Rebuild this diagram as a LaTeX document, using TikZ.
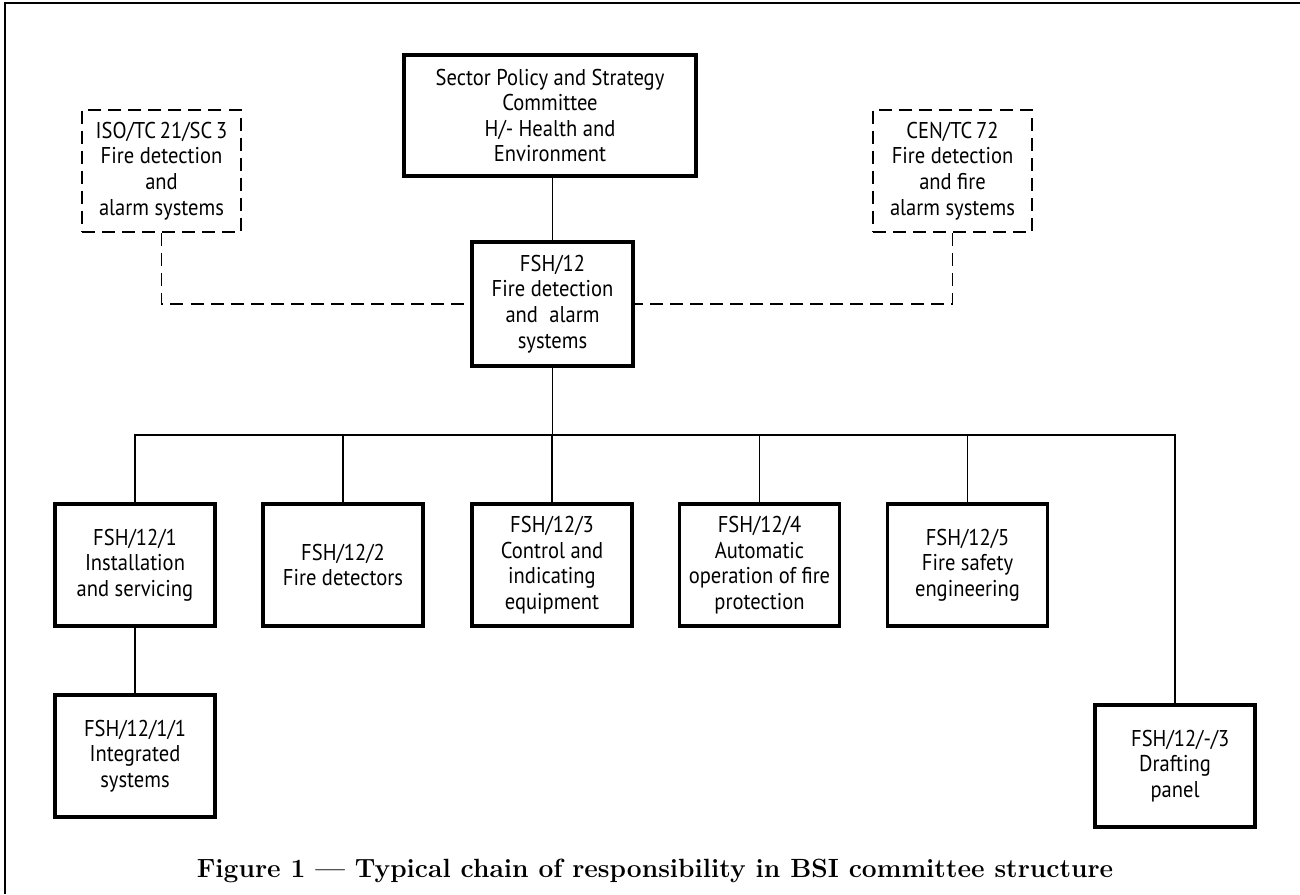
\documentclass[tikz,border=0pt]{standalone}
\usepackage{fontspec}
\usepackage{tikz}
\usetikzlibrary{positioning}
\newfontfamily\bsifont[FakeStretch=0.9]{PT Sans}

\begin{document}
\begin{tikzpicture}[x=0.02cm, y=-0.02cm,
    cttee/.style={draw, line width=1.9pt, align=center, inner sep=0pt,
        minimum width=3.2cm, minimum height=2.44cm,
        font=\bsifont\fontsize{13}{14.6}\selectfont},
    extcttee/.style={cttee, line width=1pt, dash pattern=on 7.4pt off 4pt,
        minimum width=3.18cm},
    conn/.style={line width=0.9pt},
    liaison/.style={line width=1pt, dash pattern=on 7.4pt off 4pt}]
    \useasboundingbox (0,0) rectangle (1300,894);

    % Frame
    \draw[line width=1.2pt] (5,894) -- (5,3) -- (1300,3);

    % Top level
    \node[cttee, minimum width=5.84cm, minimum height=2.42cm] (spc) at (550,115.5)
        {Sector Policy and Strategy\\Committee\\H/- Health and\\Environment};
    \node[cttee, minimum width=3.22cm, minimum height=2.48cm] (fsh12) at (552.5,304)
        {FSH/12\\Fire detection\\and\enspace alarm\\systems};

    % International committees
    \node[extcttee] (iso) at (161.5,171) {ISO/TC\,21/SC\,3\\Fire detection\\and\\alarm systems};
    \node[extcttee] (cen) at (952.5,171) {CEN/TC\,72\\Fire detection\\and fire\\alarm systems};

    % Subcommittees
    \node[cttee] (b1) at (135,565) {FSH/12/1\\Installation\\and servicing};
    \node[cttee] (b2) at (343,565) {FSH/12/2\\Fire detectors};
    \node[cttee] (b3) at (552,565) {FSH/12/3\\Control and\\indicating\\equipment};
    \node[cttee] (b4) at (759.5,565) {FSH/12/4\\Automatic\\operation of fire\\protection};
    \node[cttee] (b5) at (967.5,565) {FSH/12/5\\Fire safety\\engineering};

    % Panels
    \node[cttee] (b11) at (135,756) {FSH/12/1/1\\Integrated\\systems};
    \node[cttee] (drft) at (1175,766) {\hspace*{6pt}FSH/12/-/3\\Drafting\\panel};

    % Connectors
    \coordinate (bus) at (552.5,435);
    \draw[conn] (spc.south -| fsh12.north) -- (fsh12.north);
    \draw[conn] (fsh12.south) -- (bus);
    \draw[conn] (b1.north) |- (bus) -| (drft.north);
    \foreach \n in {2,...,5}
        \draw[conn] (b\n.north) -- (b\n.north |- bus);
    \draw[conn] (b1.south) -- (b11.north);
    \draw[line width=1.4pt] (408,435) -- (487,435);
    \draw[line width=1.4pt] (559,435) -- (676,435);

    % Liaison links
    \draw[liaison] (iso.south) |- (fsh12.west);
    \draw[liaison] (cen.south) |- (fsh12.east);

    % Caption
    \node[anchor=base, font=\bfseries\fontsize{15}{18}\selectfont] (caption) at (655,877)
        {Figure 1 --- Typical chain of responsibility in BSI committee structure};
\end{tikzpicture}
\end{document}
